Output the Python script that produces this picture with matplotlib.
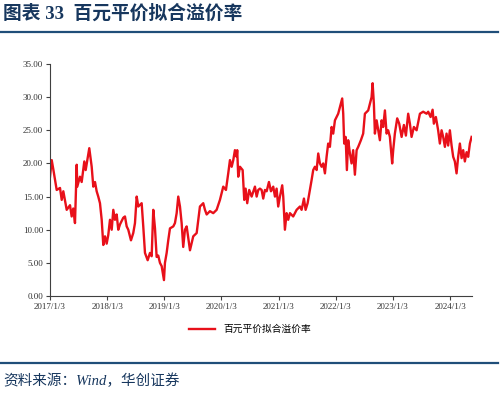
#!/usr/bin/env python3

import matplotlib
matplotlib.use('Agg')
import matplotlib.pyplot as plt
import numpy as np
import pandas as pd

# time, in years after 2017/1/3
years = [0.000, 0.030, 0.058, 0.117, 0.175, 0.205, 0.233, 0.292, 0.350, 0.379,
    0.407, 0.437, 0.467, 0.477, 0.524, 0.554, 0.600, 0.624, 0.659, 0.687,
    0.729, 0.757, 0.787, 0.816, 0.844, 0.874, 0.904, 0.932, 0.962, 0.991,
    1.019, 1.049, 1.079, 1.107, 1.136, 1.166, 1.194, 1.224, 1.281, 1.311,
    1.341, 1.369, 1.416, 1.456, 1.486, 1.516, 1.544, 1.603, 1.631, 1.661,
    1.708, 1.748, 1.778, 1.806, 1.836, 1.865, 1.893, 1.923, 1.953, 1.993,
    2.010, 2.040, 2.068, 2.098, 2.156, 2.185, 2.215, 2.243, 2.273, 2.302,
    2.330, 2.360, 2.390, 2.418, 2.448, 2.477, 2.505, 2.565, 2.593, 2.622,
    2.680, 2.710, 2.740, 2.797, 2.855, 2.914, 2.942, 2.972, 3.030, 3.077,
    3.117, 3.147, 3.177, 3.205, 3.234, 3.264, 3.274, 3.292, 3.322, 3.369,
    3.397, 3.421, 3.449, 3.484, 3.526, 3.584, 3.614, 3.642, 3.671, 3.701,
    3.729, 3.759, 3.789, 3.829, 3.864, 3.904, 3.934, 3.963, 3.991, 4.021,
    4.061, 4.079, 4.108, 4.138, 4.166, 4.196, 4.253, 4.313, 4.371, 4.400,
    4.441, 4.470, 4.505, 4.545, 4.575, 4.603, 4.633, 4.663, 4.691, 4.720,
    4.750, 4.778, 4.808, 4.837, 4.865, 4.895, 4.925, 4.953, 4.983, 5.012,
    5.040, 5.070, 5.110, 5.128, 5.145, 5.170, 5.192, 5.215, 5.245, 5.274,
    5.302, 5.332, 5.362, 5.390, 5.437, 5.477, 5.507, 5.565, 5.594, 5.624,
    5.642, 5.664, 5.682, 5.712, 5.740, 5.769, 5.799, 5.827, 5.857, 5.886,
    5.914, 5.944, 5.984, 6.002, 6.031, 6.072, 6.107, 6.149, 6.189, 6.224,
    6.264, 6.294, 6.323, 6.364, 6.411, 6.469, 6.526, 6.586, 6.614, 6.656,
    6.691, 6.713, 6.748, 6.788, 6.818, 6.848, 6.876, 6.906, 6.935, 6.963,
    6.993, 7.023, 7.051, 7.080, 7.110, 7.138, 7.168, 7.198, 7.226, 7.255,
    7.285, 7.313, 7.343, 7.373]

premium = [18.0, 20.5, 19.1, 16.0, 16.3, 14.5, 15.8, 13.0, 13.7, 12.0,
    13.2, 11.0, 19.8, 16.5, 18.0, 17.2, 20.3, 19.0, 20.8, 22.3,
    19.5, 16.5, 17.2, 15.8, 15.0, 14.0, 11.5, 7.7, 9.0, 7.9,
    9.2, 11.5, 10.0, 13.0, 11.5, 12.3, 10.0, 10.8, 11.8, 12.0,
    10.5, 10.0, 8.4, 9.5, 11.0, 15.0, 13.5, 14.0, 10.5, 6.5,
    5.4, 6.5, 6.0, 13.0, 10.2, 5.9, 6.1, 5.0, 4.5, 2.4,
    5.0, 6.5, 8.4, 10.2, 10.5, 11.0, 12.5, 15.0, 13.5, 11.0,
    7.4, 10.0, 10.5, 8.8, 6.9, 8.0, 9.0, 9.5, 11.5, 13.5,
    14.0, 13.0, 12.3, 12.8, 12.5, 13.0, 13.7, 14.5, 16.5, 16.0,
    18.5, 20.5, 19.5, 20.5, 22.0, 21.0, 22.0, 18.0, 19.5, 19.0,
    14.5, 16.2, 14.0, 16.0, 15.0, 16.5, 15.0, 16.0, 16.2, 16.0,
    14.7, 16.0, 15.8, 17.2, 15.8, 16.5, 15.0, 16.2, 13.5, 15.0,
    16.7, 15.0, 10.0, 12.5, 11.5, 12.5, 12.0, 13.0, 13.5, 13.0,
    14.7, 13.0, 14.0, 16.0, 17.5, 19.0, 19.5, 19.0, 21.5, 20.0,
    19.5, 20.0, 18.5, 21.0, 23.0, 22.5, 25.5, 24.5, 26.5, 27.0,
    27.5, 28.5, 29.8, 27.5, 23.0, 24.0, 19.0, 23.5, 21.5, 20.0,
    22.0, 18.3, 22.0, 22.5, 23.5, 24.5, 27.5, 28.0, 29.0, 30.0,
    32.1, 29.0, 24.5, 26.5, 25.0, 23.5, 26.5, 25.5, 28.0, 24.5,
    25.0, 24.0, 20.0, 22.0, 24.5, 26.8, 26.0, 24.0, 25.8, 24.2,
    27.5, 26.0, 24.0, 25.5, 25.0, 27.5, 27.8, 27.5, 27.8, 27.0,
    28.1, 26.0, 27.0, 25.0, 23.0, 25.0, 24.0, 22.5, 24.5, 22.7,
    25.0, 22.7, 21.0, 20.3, 18.5, 21.0, 23.0, 20.8, 22.0, 20.3,
    21.7, 21.0, 23.0, 24.0]

tick_dates = ['2017-01-03', '2018-01-03', '2019-01-03', '2020-01-03',
    '2021-01-03', '2022-01-03', '2023-01-03', '2024-01-03']

start = pd.Timestamp('2017-01-03')
dates = start + pd.to_timedelta(np.array(years) * 365.25, unit='D')

navy = '#17375e'
red = '#e8101a'
cjk = ['Noto Sans CJK SC', 'DejaVu Sans']
serif_cjk = ['Liberation Serif', 'Noto Sans CJK SC']

figure = plt.figure(figsize=(5.0, 3.95), dpi=100)
ax = figure.add_axes([0.1, 0.2506, 0.844, 0.5874])

ax.plot(dates, premium, color=red, linewidth=1.7, label='百元平价拟合溢价率')

ax.set_ylim(0, 35)
ax.set_yticks(np.arange(0, 35.1, 5))
ax.yaxis.set_major_formatter(matplotlib.ticker.FormatStrFormatter('%.2f'))
ax.set_xlim(start, start + pd.Timedelta(days=7.38 * 365.25))
ticks = pd.to_datetime(tick_dates)
ax.set_xticks(ticks)
ax.set_xticklabels([f'{t.year}/{t.month}/{t.day}' for t in ticks])

for side in ('top', 'right'):
    ax.spines[side].set_visible(False)
for side in ('left', 'bottom'):
    ax.spines[side].set_color('#404040')
    ax.spines[side].set_linewidth(0.8)
ax.tick_params(axis='both', direction='out', length=3, width=0.8,
    color='#404040', labelsize=6.5, labelcolor='#333333', pad=2)
for label in ax.get_xticklabels() + ax.get_yticklabels():
    label.set_family('Liberation Serif')

figure.legend(loc='center', bbox_to_anchor=(0.5, 1 - 329 / 395), frameon=False,
    handlelength=2.7, prop={'family': cjk, 'size': 7})

figure.text(0.006, 1 - 14 / 395, '图表 33  百元平价拟合溢价率', family=serif_cjk,
    fontsize=13.5, fontweight='bold', color=navy, va='center', ha='left')
figure.text(0.006, 1 - 381 / 395, '资料来源：Wind，华创证券', family=serif_cjk,
    fontsize=10.5, style='italic', color=navy, va='center', ha='left')

figure.add_artist(plt.Line2D([0, 0.995], [1 - 32 / 395] * 2, color='#1f4e79',
    linewidth=1.6))
figure.add_artist(plt.Line2D([0, 0.995], [1 - 362.5 / 395] * 2, color='#1f4e79',
    linewidth=1.6))

figure.savefig('out.png', dpi=100)
